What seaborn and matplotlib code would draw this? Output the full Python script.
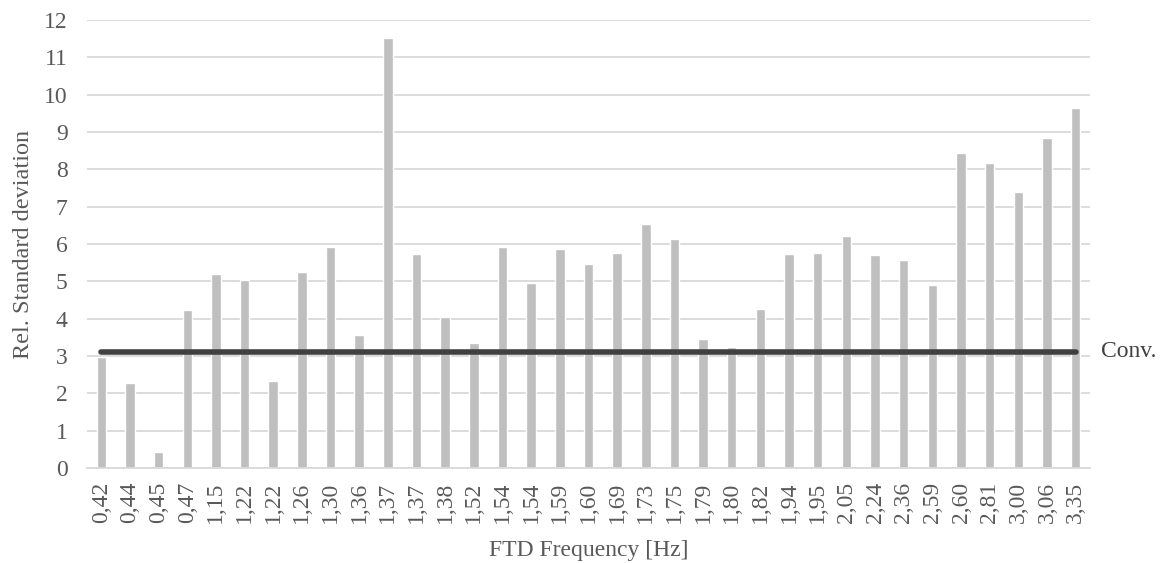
import matplotlib
matplotlib.use("Agg")
import matplotlib.pyplot as plt
import seaborn as sns
import pandas as pd

# FTD frequencies (category labels) and relative standard deviation per run
freq_labels = ["0,42", "0,44", "0,45", "0,47", "1,15", "1,22", "1,22", "1,26", "1,30",
               "1,36", "1,37", "1,37", "1,38", "1,52", "1,54", "1,54", "1,59", "1,60",
               "1,69", "1,73", "1,75", "1,79", "1,80", "1,82", "1,94", "1,95", "2,05",
               "2,24", "2,36", "2,59", "2,60", "2,81", "3,00", "3,06", "3,35"]
rel_std = [2.97, 2.29, 0.44, 4.23, 5.19, 5.04, 2.33, 5.24, 5.92,
           3.57, 11.51, 5.74, 4.04, 3.34, 5.92, 4.96, 5.87, 5.46,
           5.76, 6.54, 6.13, 3.46, 3.25, 4.26, 5.74, 5.75, 6.22,
           5.70, 5.57, 4.91, 8.44, 8.17, 7.38, 8.85, 9.64]
conv_value = 3.12
y_ticks = list(range(0, 13))

sns.set_theme(style="white")
plt.rcParams["font.family"] = ["Liberation Serif", "DejaVu Serif"]

FS = 17
TXT = "#595959"

df = pd.DataFrame({"idx": range(len(rel_std)), "rel_std": rel_std})

fig = plt.figure(figsize=(11.64, 5.63), dpi=100)
ax = fig.add_axes([0.0747, 0.1687, 0.8617, 0.7958])

sns.barplot(data=df, x="idx", y="rel_std", color="#bfbfbf", saturation=1,
            width=0.33, ax=ax, zorder=2)

# grid lines
for t in y_ticks:
    ax.axhline(t, color="#d9d9d9", lw=1.3, zorder=1)

# conventional reference level
ax.plot([0, len(rel_std) - 1], [conv_value, conv_value], color="#404040",
        lw=4, solid_capstyle="round", zorder=3)
ax.text(len(rel_std) - 1 + 0.9, conv_value, "Conv.", va="center", ha="left",
        fontsize=FS, color="#404040", clip_on=False)

ax.set_xlim(-0.5, len(rel_std) - 0.5)
ax.set_ylim(0, 12)
ax.set_yticks(y_ticks)
ax.set_yticklabels([str(t) for t in y_ticks], fontsize=FS, color=TXT)
ax.set_xticks(range(len(freq_labels)))
ax.set_xticklabels(freq_labels, rotation=90, fontsize=FS, color=TXT)
ax.tick_params(axis="y", length=0, pad=14)
ax.tick_params(axis="x", length=0, pad=10)

ax.set_xlabel("FTD Frequency [Hz]", fontsize=FS, color=TXT, labelpad=12)
ax.set_ylabel("Rel. Standard deviation", fontsize=FS + 0.5, color=TXT, labelpad=7)

for side in ["top", "right", "left"]:
    ax.spines[side].set_visible(False)
ax.spines["bottom"].set_color("#d9d9d9")
ax.spines["bottom"].set_linewidth(1.3)
ax.spines["bottom"].set_zorder(4)

fig.savefig("out.png", dpi=100)
